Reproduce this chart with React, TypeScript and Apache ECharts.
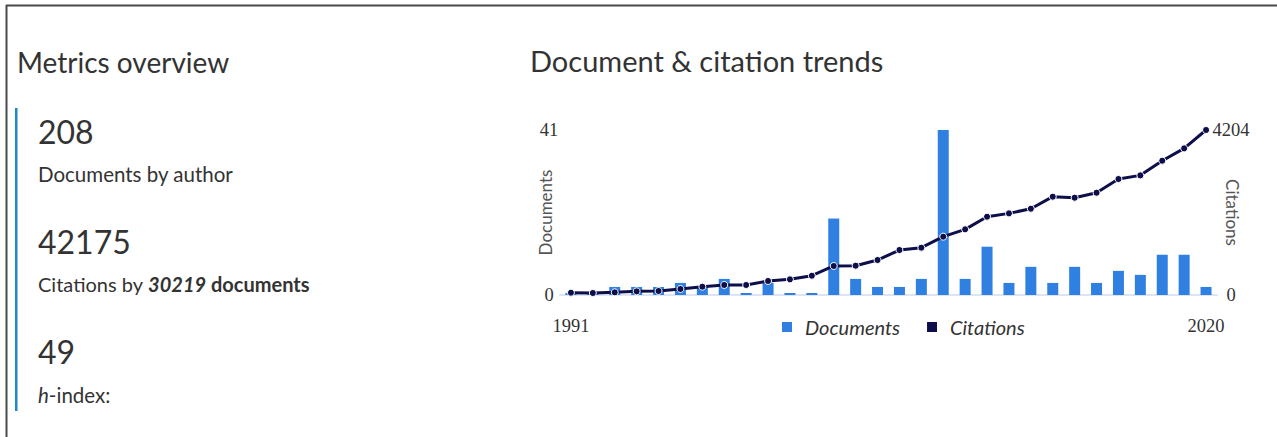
import React, { useEffect, useRef } from "react";
import * as echarts from "echarts";

const years: string[] = [
  "1991","1992","1993","1994","1995","1996","1997","1998","1999","2000",
  "2001","2002","2003","2004","2005","2006","2007","2008","2009","2010",
  "2011","2012","2013","2014","2015","2016","2017","2018","2019","2020",
];
const documents: number[] = [
  0, 0, 2, 2, 2, 3, 2, 4, 0, 3,
  0, 0, 19, 4, 2, 2, 4, 41, 4, 12,
  3, 7, 3, 7, 3, 6, 5, 10, 10, 2,
];
const citations: number[] = [
  59, 51, 68, 93, 102, 153, 212, 255, 255, 357,
  399, 492, 739, 747, 891, 1146, 1206, 1486, 1673, 1995,
  2080, 2199, 2505, 2479, 2606, 2955, 3048, 3421, 3736, 4204,
];
const docMax = 41;
const citMax = 4204;

const metrics = {
  documents: "208",
  citations: "42175",
  citingDocs: "30219",
  hIndex: "49",
};

const SANS = "Lato, 'Open Sans', sans-serif";
const SERIF = "'Liberation Serif', 'DejaVu Serif', serif";
const TEXT = "#333333";
const BAR = "#3080e2";
const LINE = "#0e0e4a";

export default function App() {
  const ref = useRef<HTMLDivElement>(null);
  useEffect(() => {
    if (!ref.current) return;
    const chart = echarts.init(ref.current, undefined, { renderer: "svg" });
    const txt = (x: number, y: number, text: string, size: number, extra: any = {}) => ({
      type: "text",
      x,
      y,
      style: {
        text,
        font: `${size}px ${SANS}`,
        fill: TEXT,
        verticalAlign: "middle",
        ...extra,
      },
    });
    chart.setOption({
      animation: false,
      backgroundColor: "#ffffff",
      graphic: [
        { type: "line", shape: { x1: 6.5, y1: 5, x2: 6.5, y2: 437 }, style: { stroke: "#4a4a4a", lineWidth: 2 } },
        { type: "line", shape: { x1: 6, y1: 5.5, x2: 1277, y2: 5.5 }, style: { stroke: "#4a4a4a", lineWidth: 2 } },
        { type: "rect", shape: { x: 15, y: 108, width: 2.5, height: 303 }, style: { fill: "#1f86c8" } },
        txt(17, 61.5, "Metrics overview", 28),
        txt(530, 60.5, "Document & citation trends", 29),
        txt(38, 131, metrics.documents, 32),
        txt(38, 173.5, "Documents by author", 20.5),
        txt(38, 241, metrics.citations, 32),
        {
          type: "text",
          x: 38,
          y: 283.5,
          style: {
            text: `{a|Citations by }{b|${metrics.citingDocs}}{c| documents}`,
            verticalAlign: "middle",
            rich: {
              a: { font: `20px ${SANS}`, fill: TEXT },
              b: { font: `italic bold 20px ${SANS}`, fill: TEXT },
              c: { font: `bold 20px ${SANS}`, fill: TEXT },
            },
          },
        },
        txt(38, 351, metrics.hIndex, 32),
        {
          type: "text",
          x: 38,
          y: 394.5,
          style: {
            text: "{a|h}{b|-index:}",
            verticalAlign: "middle",
            rich: {
              a: { font: `italic 20.5px ${SANS}`, fill: TEXT },
              b: { font: `20.5px ${SANS}`, fill: TEXT },
            },
          },
        },
      ],
      legend: {
        left: 782,
        top: 317,
        padding: 0,
        icon: "rect",
        itemWidth: 10,
        itemHeight: 10,
        itemGap: 27,
        textStyle: {
          fontFamily: SANS,
          fontStyle: "italic",
          fontSize: 20,
          color: TEXT,
          padding: [0, 0, 0, 8],
        },
        data: [
          { name: "Documents", icon: "rect", itemStyle: { color: BAR } },
          { name: "Citations", icon: "rect", itemStyle: { color: LINE, borderWidth: 0 } },
        ],
      },
      grid: { left: 560, right: 60, top: 130, bottom: 142 },
      xAxis: {
        type: "category",
        data: years,
        boundaryGap: true,
        offset: 2,
        axisLine: { show: true, lineStyle: { color: "#dde4f6", width: 2 } },
        axisTick: { show: false },
        axisLabel: {
          interval: 0,
          formatter: (v: string, i: number) => (i === 0 || i === years.length - 1 ? v : ""),
          fontFamily: SERIF,
          fontSize: 18.5,
          color: TEXT,
          margin: 19,
        },
      },
      yAxis: [
        {
          type: "value",
          min: 0,
          max: docMax,
          interval: docMax,
          name: "Documents",
          nameLocation: "middle",
          nameGap: 6,
          nameMoveOverlap: false,
          nameTextStyle: { fontFamily: SANS, fontSize: 17, color: "#555555" },
          axisLine: { show: false },
          axisTick: { show: false },
          splitLine: { show: false },
          axisLabel: { fontFamily: SERIF, fontSize: 18.5, color: TEXT, margin: 11, align: "center" },
        },
        {
          type: "value",
          min: 0,
          max: citMax,
          interval: citMax,
          position: "right",
          name: "Citations",
          nameLocation: "middle",
          nameGap: 7,
          nameRotate: -90,
          nameMoveOverlap: false,
          nameTextStyle: { fontFamily: SANS, fontSize: 17, color: "#555555" },
          axisLine: { show: false },
          axisTick: { show: false },
          splitLine: { show: false },
          axisLabel: {
            fontFamily: SERIF,
            fontSize: 18.5,
            color: TEXT,
            margin: 14,
            align: "center",
            formatter: (v: number) => String(v),
          },
        },
      ],
      series: [
        {
          name: "Documents",
          type: "bar",
          data: documents,
          yAxisIndex: 0,
          barWidth: 11,
          barMinHeight: 2,
          itemStyle: { color: BAR },
        },
        {
          name: "Citations",
          type: "line",
          data: citations,
          yAxisIndex: 1,
          symbol: "circle",
          symbolSize: 7,
          showSymbol: true,
          lineStyle: { color: LINE, width: 3 },
          itemStyle: { color: LINE, borderColor: "#ffffff", borderWidth: 1 },
        },
      ],
    });
    return () => chart.dispose();
  }, []);
  return (
    <div
      ref={ref}
      style={{ position: "absolute", left: 0, top: 0, width: 1277, height: 437 }}
    />
  );
}
